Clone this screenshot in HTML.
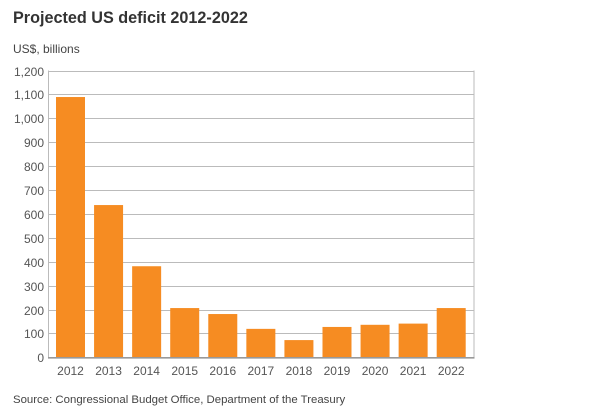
<!DOCTYPE html><html><head><style>body{margin:0;background:#fff;width:603px;height:407px;overflow:hidden;font-family:"Liberation Sans",Arial,sans-serif}</style></head><body>
<svg width="603" height="407" xmlns="http://www.w3.org/2000/svg" font-family="Liberation Sans, Arial, sans-serif">
<text x="13" y="23" font-size="16.2" font-weight="bold" fill="#333">Projected US deficit 2012-2022</text>
<text x="13" y="53" font-size="12" fill="#444">US$, billions</text>
<g stroke="#bbb" stroke-width="1">
<line x1="48.5" y1="70.5" x2="48.5" y2="357"/><line x1="474" y1="70.5" x2="474" y2="357"/>
</g>
<g stroke="#bbb" stroke-width="1" id="g"></g>
<g font-size="12" fill="#555" text-anchor="end" id="yl"></g>
<g fill="#f68c22" id="b"></g>
<line x1="48" y1="357.8" x2="474.5" y2="357.8" stroke="#999" stroke-width="1.6"/>
<g font-size="12" fill="#555" text-anchor="middle" id="xl"></g>
<text x="13" y="403" font-size="11.4" fill="#444">Source: Congressional Budget Office, Department of the Treasury</text>
<script>
var ns="http://www.w3.org/2000/svg",g=document.getElementById('g'),yl=document.getElementById('yl'),b=document.getElementById('b'),xl=document.getElementById('xl');
function y(v){return 357.3-v*0.2390;}
for(var i=0;i<=12;i++){var yy=Math.round(y(i*100))+0.5;if(i>0){var l=document.createElementNS(ns,'line');l.setAttribute('x1',48.5);l.setAttribute('x2',474);l.setAttribute('y1',yy);l.setAttribute('y2',yy);g.appendChild(l);}
var t=document.createElementNS(ns,'text');t.setAttribute('x',44);t.setAttribute('y',yy+4.5);t.textContent=(i*100).toLocaleString('en-US');yl.appendChild(t);}
var vals=[1089,637,381,206,181,119,72,127,136,141,206];
vals.forEach(function(v,i){var x=56+i*38.07;var r=document.createElementNS(ns,'rect');r.setAttribute('x',x);r.setAttribute('width',29);r.setAttribute('y',y(v));r.setAttribute('height',357.3-y(v));b.appendChild(r);
var t=document.createElementNS(ns,'text');t.setAttribute('x',x+14.5);t.setAttribute('y',375);t.textContent=2012+i;xl.appendChild(t);});
</script>
</svg></body></html>
